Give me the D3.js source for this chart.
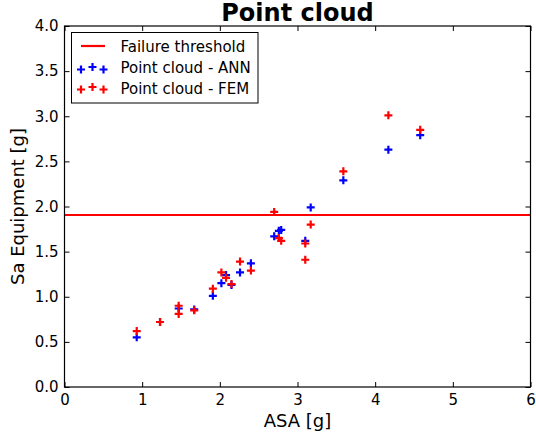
<!DOCTYPE html>
<html>
<head>
<meta charset="utf-8">
<script src="https://cdn.jsdelivr.net/npm/d3@7"></script>
<style>
  html, body { margin: 0; padding: 0; background: #fff; }
  svg { display: block; font-family: "DejaVu Sans", sans-serif; }
</style>
</head>
<body>
<svg id="chart" width="536" height="436"></svg>
<script>
// ---- data ----
const titleText = "Point cloud";
const xLabel = "ASA [g]";
const yLabel = "Sa Equipment [g]";
const xTicks = [0, 1, 2, 3, 4, 5, 6];
const yTicks = [0.0, 0.5, 1.0, 1.5, 2.0, 2.5, 3.0, 3.5, 4.0];
const threshold = 1.906;
const annX = [0.93, 1.23, 1.47, 1.67, 1.91, 2.02, 2.08, 2.15, 2.26, 2.40, 2.70, 2.76, 2.79, 3.10, 3.17, 3.59, 4.17, 4.58];
const annY = [0.55, 0.72, 0.87, 0.86, 1.01, 1.15, 1.24, 1.13, 1.27, 1.37, 1.67, 1.73, 1.74, 1.62, 1.99, 2.29, 2.63, 2.79];
const femX = [0.93, 1.23, 1.47, 1.47, 1.67, 1.91, 2.02, 2.08, 2.15, 2.26, 2.40, 2.70, 2.76, 2.79, 3.10, 3.10, 3.17, 3.59, 4.17, 4.58];
const femY = [0.62, 0.72, 0.90, 0.81, 0.85, 1.09, 1.27, 1.21, 1.14, 1.39, 1.29, 1.94, 1.65, 1.62, 1.59, 1.41, 1.80, 2.39, 3.01, 2.85];
const legendLabels = ["Failure threshold", "Point cloud - ANN", "Point cloud - FEM"];

// ---- layout ----
const svg = d3.select("#chart");
const mLeft = 64.5, mRight = 530.5, mTop = 26, mBottom = 387;
const x = d3.scaleLinear().domain([0, 6]).range([mLeft, mRight]);
const y = d3.scaleLinear().domain([0, 4]).range([mBottom, mTop]);

const plusPath = s => `M${-s},0H${s}M0,${-s}V${s}`;

// threshold line
svg.append("line")
  .attr("x1", x(0)).attr("x2", x(6))
  .attr("y1", y(threshold)).attr("y2", y(threshold))
  .attr("stroke", "#ff0000").attr("stroke-width", 2.2);

function drawPoints(xs, ys, color) {
  svg.append("g").selectAll("path")
    .data(xs.map((d, i) => [d, ys[i]]))
    .join("path")
    .attr("transform", d => `translate(${x(d[0])},${y(d[1])})`)
    .attr("d", plusPath(4))
    .attr("stroke", color)
    .attr("stroke-width", 2.2)
    .attr("fill", "none");
}
drawPoints(annX, annY, "#0000ff");
drawPoints(femX, femY, "#ff0000");

// axes (ticks inward, on all sides)
const tickLen = 5;
const axB = svg.append("g").attr("transform", `translate(0,${mBottom})`)
  .call(d3.axisBottom(x).tickValues(xTicks).tickFormat(d3.format("d")).tickSizeInner(-tickLen).tickSizeOuter(0).tickPadding(7));
const axT = svg.append("g").attr("transform", `translate(0,${mTop})`)
  .call(d3.axisTop(x).tickValues(xTicks).tickFormat("").tickSizeInner(-tickLen).tickSizeOuter(0));
const axL = svg.append("g").attr("transform", `translate(${mLeft},0)`)
  .call(d3.axisLeft(y).tickValues(yTicks).tickFormat(d3.format(".1f")).tickSizeInner(-tickLen).tickSizeOuter(0).tickPadding(6));
const axR = svg.append("g").attr("transform", `translate(${mRight},0)`)
  .call(d3.axisRight(y).tickValues(yTicks).tickFormat("").tickSizeInner(-tickLen).tickSizeOuter(0));
[axB, axT, axL, axR].forEach(a => {
  a.select(".domain").remove();
  a.selectAll(".tick line").attr("stroke", "#000").attr("stroke-width", 1);
  a.selectAll("text").attr("font-size", 15).attr("fill", "#000").attr("font-family", "DejaVu Sans");
});

// frame
svg.append("rect").attr("x", mLeft).attr("y", mTop)
  .attr("width", mRight - mLeft).attr("height", mBottom - mTop)
  .attr("fill", "none").attr("stroke", "#000").attr("stroke-width", 1.2);

// title and labels
svg.append("text").attr("x", (mLeft + mRight) / 2).attr("y", 21)
  .attr("text-anchor", "middle").attr("font-size", 24).attr("font-weight", "bold")
  .text(titleText);
svg.append("text").attr("x", (mLeft + mRight) / 2).attr("y", 427)
  .attr("text-anchor", "middle").attr("font-size", 18).text(xLabel);
svg.append("text").attr("transform", `translate(24,${(mTop + mBottom) / 2}) rotate(-90)`)
  .attr("text-anchor", "middle").attr("font-size", 18).text(yLabel);

// legend
const lg = svg.append("g");
lg.append("rect").attr("x", 71.5).attr("y", 32.5).attr("width", 186.5).attr("height", 70.5)
  .attr("fill", "#fff").attr("stroke", "#000").attr("stroke-width", 1);
lg.append("line").attr("x1", 81).attr("x2", 105).attr("y1", 46).attr("y2", 46)
  .attr("stroke", "#ff0000").attr("stroke-width", 2.2);
const offs = [[81, 1.5], [92.5, -1], [103.5, 1.5]];
[["#0000ff", 68], ["#ff0000", 88]].forEach(([c, cy]) => {
  offs.forEach(([ox, oy]) => {
    lg.append("path").attr("transform", `translate(${ox},${cy + oy})`)
      .attr("d", plusPath(4)).attr("stroke", c).attr("stroke-width", 2.2).attr("fill", "none");
  });
});
[46, 67, 88].forEach((cy, i) => {
  lg.append("text").attr("x", 120.5).attr("y", cy + 5.5).attr("font-size", 15).text(legendLabels[i]);
});
</script>
</body>
</html>
